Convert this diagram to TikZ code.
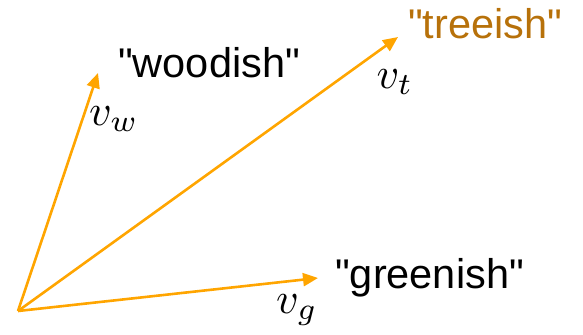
\documentclass[tikz,border=0pt]{standalone}
\usepackage{fontspec}
\setmainfont{Liberation Sans}[Ligatures=TeXOff]
\usetikzlibrary{arrows.meta}
\definecolor{vecorange}{RGB}{255,165,0}
\definecolor{treebrown}{RGB}{183,113,10}
\tikzset{
  vec/.style={draw=vecorange, line width=2.6bp, -{Triangle[length=15bp,width=13bp]}},
  word/.style={anchor=base west, inner sep=0pt, font=\fontsize{41.5bp}{50bp}\selectfont},
  vlabel/.style={inner sep=0pt}
}
\newcommand{\bigmath}[1]{\scalebox{4.4}{$#1$}}
\begin{document}
\begin{tikzpicture}[x=1bp,y=-1bp]
\useasboundingbox (0,0) rectangle (583,334);
\coordinate (O) at (18,311);
\coordinate (W) at (98,73);
\coordinate (T) at (398,37);
\coordinate (G) at (318,278);
\draw[vec] (O) -- (W);
\draw[vec] (O) -- (T);
\draw[vec] (O) -- (G);
\node[word] (woodish) at (118,77) {"woodish"};
\node[word, text=treebrown] (treeish) at (408,38) {"treeish"};
\node[word] (greenish) at (335,288) {"greenish"};
\node[vlabel] (vw) at (114,119) {\bigmath{v_w}};
\node[vlabel] (vt) at (395,82) {\bigmath{v_t}};
\node[vlabel] (vg) at (297,310) {\bigmath{v_g}};
\end{tikzpicture}
\end{document}
